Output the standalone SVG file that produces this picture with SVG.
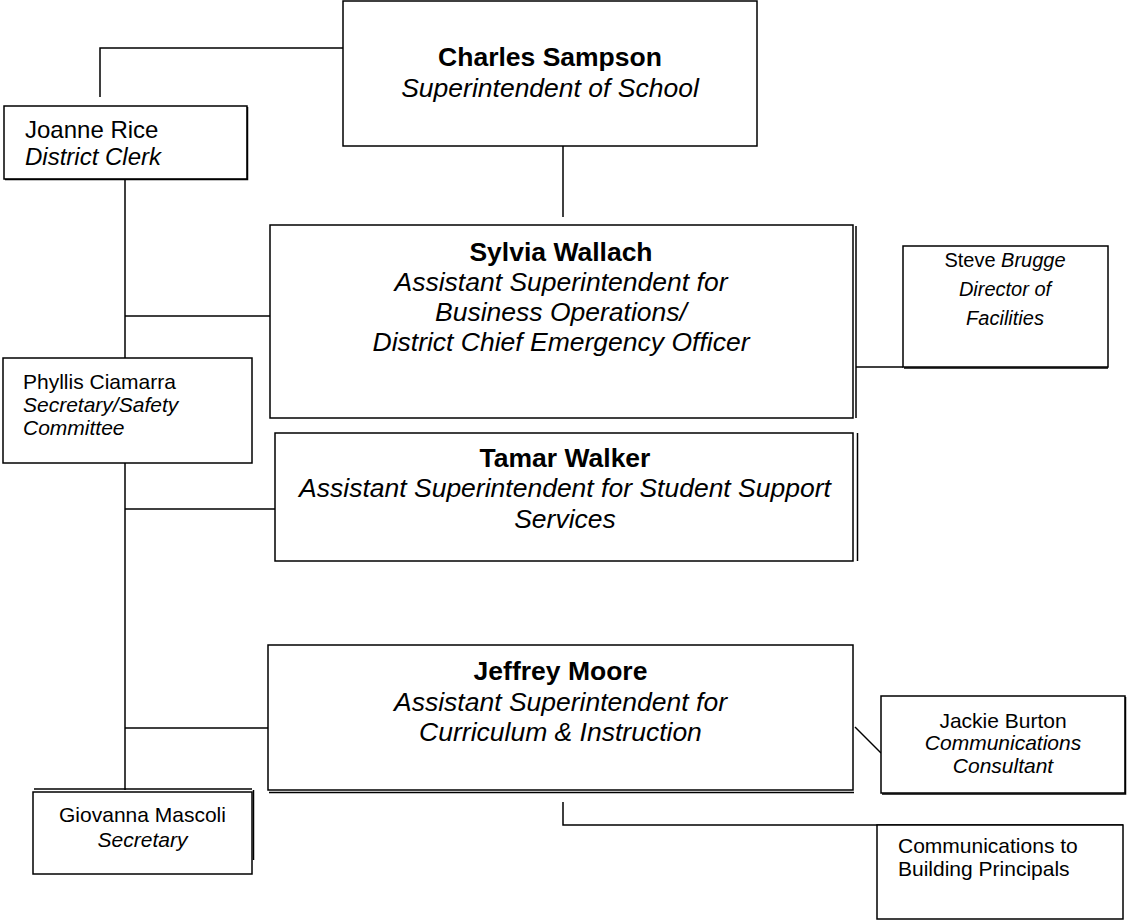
<svg xmlns="http://www.w3.org/2000/svg" width="1127" height="924" viewBox="0 0 1127 924">
<style>
.box{fill:#fff;stroke:#000;stroke-width:1.5}
.sh{stroke:#000;stroke-width:1.5;fill:none}
.ln{stroke:#000;stroke-width:1.5;fill:none}
text{font-family:"Liberation Sans",Arial,sans-serif;fill:#000}
.big{font-size:26.5px}
.b{font-weight:bold}
.i{font-style:italic}
.s24{font-size:24px}
.s21{font-size:21px}
.s20{font-size:20px}
.c{text-anchor:middle}
</style>
<rect width="1127" height="924" fill="#fff"/>
<g id="connectors">
<polyline class="ln" points="343,48 100,48 100,97"/>
<line class="ln" x1="563" y1="146" x2="563" y2="217"/>
<line class="ln" x1="125" y1="179" x2="125" y2="358"/>
<line class="ln" x1="125" y1="463" x2="125" y2="790"/>
<line class="ln" x1="125" y1="316" x2="270" y2="316"/>
<line class="ln" x1="125" y1="509" x2="275" y2="509"/>
<line class="ln" x1="125" y1="728" x2="268" y2="728"/>
<line class="ln" x1="856" y1="367" x2="903" y2="367"/>
<line class="ln" x1="855" y1="727" x2="881" y2="753"/>
<polyline class="ln" points="563,802 563,825 1123,825"/>
</g>
<g id="charles">
<rect class="box" x="343" y="1" width="414" height="145"/>
<text class="big b c" x="550" y="65.5">Charles Sampson</text>
<text class="big i c" x="550" y="97">Superintendent of School</text>
</g>
<g id="joanne">
<rect class="box" x="4" y="106" width="243" height="73"/>
<polyline class="sh" points="247.5,107 247.5,179.5 5,179.5"/>
<text class="s24" x="25" y="138">Joanne Rice</text>
<text class="s24 i" x="25" y="165">District Clerk</text>
</g>
<g id="sylvia">
<rect class="box" x="270" y="225" width="583" height="193"/>
<line class="sh" x1="856" y1="226" x2="856" y2="418"/>
<text class="big b c" x="561" y="261">Sylvia Wallach</text>
<text class="big i c" x="561" y="291">Assistant Superintendent for</text>
<text class="big i c" x="561" y="321">Business Operations/</text>
<text class="big i c" x="561" y="351">District Chief Emergency Officer</text>
</g>
<g id="steve">
<rect class="box" x="903" y="246" width="205" height="121"/>
<line class="sh" x1="904" y1="368" x2="1108" y2="368"/>
<text class="s20 c" x="1005" y="267">Steve <tspan class="i">Brugge</tspan></text>
<text class="s20 i c" x="1005" y="296">Director of</text>
<text class="s20 i c" x="1005" y="325">Facilities</text>
</g>
<g id="phyllis">
<rect class="box" x="3" y="358" width="249" height="105"/>
<text class="s21" x="23" y="389">Phyllis Ciamarra</text>
<text class="s21 i" x="23" y="412">Secretary/Safety</text>
<text class="s21 i" x="23" y="435">Committee</text>
</g>
<g id="tamar">
<rect class="box" x="275" y="433" width="578" height="128"/>
<line class="sh" x1="857.5" y1="433" x2="857.5" y2="561"/>
<text class="big b c" x="565" y="467">Tamar Walker</text>
<text class="big i c" x="565" y="497">Assistant Superintendent for Student Support</text>
<text class="big i c" x="565" y="528">Services</text>
</g>
<g id="jeffrey">
<rect class="box" x="268" y="645" width="585" height="145"/>
<line class="sh" x1="269" y1="792.5" x2="854" y2="792.5"/>
<text class="big b c" x="560.5" y="680">Jeffrey Moore</text>
<text class="big i c" x="560.5" y="711">Assistant Superintendent for</text>
<text class="big i c" x="560.5" y="741">Curriculum &amp; Instruction</text>
</g>
<g id="jackie">
<rect class="box" x="881" y="696" width="244" height="97"/>
<polyline class="sh" points="1125.5,697 1125.5,794 882,794"/>
<text class="s21 c" x="1003" y="728">Jackie Burton</text>
<text class="s21 i c" x="1003" y="750">Communications</text>
<text class="s21 i c" x="1003" y="773">Consultant</text>
</g>
<g id="giovanna">
<rect class="box" x="33" y="792" width="219" height="82"/>
<line class="sh" x1="34" y1="789" x2="252" y2="789"/>
<line class="sh" x1="253.5" y1="790" x2="253.5" y2="860"/>
<text class="s21 c" x="142.5" y="822">Giovanna Mascoli</text>
<text class="s21 i c" x="142.5" y="847">Secretary</text>
</g>
<g id="comm">
<rect class="box" x="877" y="825" width="246" height="94"/>
<text class="s21" x="898" y="853">Communications to</text>
<text class="s21" x="898" y="876">Building Principals</text>
</g>
</svg>
